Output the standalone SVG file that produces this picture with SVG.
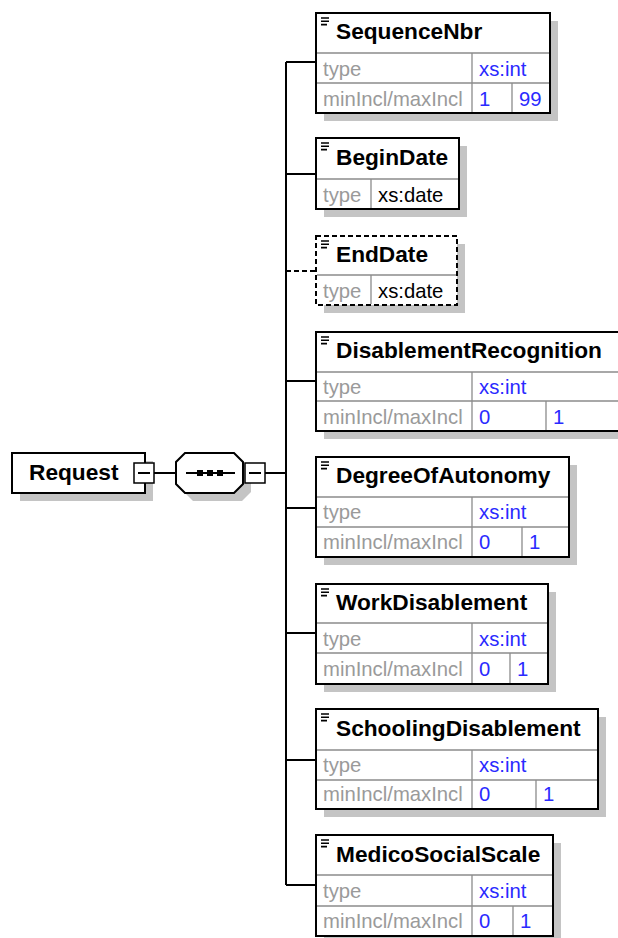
<svg xmlns="http://www.w3.org/2000/svg" width="618" height="938" viewBox="0 0 618 938">
<style>
.bg{fill:#fff}
.sh{fill:#c4c4c4}
.box{fill:#fff;stroke:#000;stroke-width:2}
.dash{fill:#fff;stroke:#000;stroke-width:2;stroke-dasharray:5 3}
.in{stroke:#8c8c8c;stroke-width:1.3;fill:none}
.ic{stroke:#000;stroke-width:1.6}
.hd{font-family:"Liberation Sans",Arial,sans-serif;font-weight:bold;font-size:22.7px;fill:#000}
.lb{font-family:"Liberation Sans",Arial,sans-serif;font-size:20.3px;fill:#9a9a9a}
.vb{font-family:"Liberation Sans",Arial,sans-serif;font-size:20.3px;fill:#2a2aff}
.vk{font-family:"Liberation Sans",Arial,sans-serif;font-size:20.3px;fill:#000}
.cn{stroke:#000;stroke-width:2;fill:none}
.cd{stroke:#000;stroke-width:2;fill:none;stroke-dasharray:5 3}
.mb{fill:#fff;stroke:#000;stroke-width:1.5}
</style>
<defs>
<g id="icon"><path class="ic" d="M0,0H8M0,3.3H8M0,6.6H6"/></g>
</defs>
<rect class="bg" x="0" y="0" width="618" height="938"/>

<g id="connectors">
<line class="cn" x1="154" y1="473" x2="176" y2="473"/>
<line class="cn" x1="265" y1="473" x2="286" y2="473"/>
<line class="cn" x1="286" y1="62" x2="286" y2="885"/>
<line class="cn" x1="286" y1="62" x2="316" y2="62"/>
<line class="cn" x1="286" y1="174" x2="316" y2="174"/>
<line class="cd" x1="286" y1="271" x2="316" y2="271"/>
<line class="cn" x1="286" y1="381" x2="316" y2="381"/>
<line class="cn" x1="286" y1="508" x2="316" y2="508"/>
<line class="cn" x1="286" y1="633" x2="316" y2="633"/>
<line class="cn" x1="286" y1="760" x2="316" y2="760"/>
<line class="cn" x1="286" y1="885" x2="316" y2="885"/>
</g>

<g id="Request">
<rect class="sh" x="20" y="461" width="133" height="40"/>
<rect class="box" x="12" y="453" width="133" height="40"/>
<text class="hd" x="29" y="480">Request</text>
<rect class="mb" x="134" y="463" width="20" height="20"/>
<line class="cn" x1="138" y1="473" x2="150" y2="473" stroke-width="1.5"/>
</g>

<g id="sequence">
<polygon class="sh" points="193,461 242,461 251,470 251,492 242,501 193,501 184,492 184,470"/>
<polygon class="box" points="185,453 234,453 243,462 243,484 234,493 185,493 176,484 176,462" stroke-width="1.5"/>
<line class="cn" x1="186" y1="473" x2="235" y2="473" stroke-width="1.5"/>
<rect x="197" y="470" width="6" height="6" fill="#000"/>
<rect x="207" y="470" width="6" height="6" fill="#000"/>
<rect x="217" y="470" width="6" height="6" fill="#000"/>
<rect class="mb" x="245" y="463" width="20" height="20"/>
<line class="cn" x1="249" y1="473" x2="261" y2="473" stroke-width="1.5"/>
</g>

<g id="SequenceNbr">
<rect class="sh" x="324" y="21" width="234" height="100"/>
<rect class="box" x="316" y="13" width="234" height="100"/>
<path class="in" d="M317,53H549M317,83H549M472,53V112M512,83V112"/>
<use href="#icon" x="321" y="18"/>
<text class="hd" x="336" y="39">SequenceNbr</text>
<text class="lb" x="323" y="76">type</text>
<text class="vb" x="479" y="76">xs:int</text>
<text class="lb" x="323" y="106">minIncl/maxIncl</text>
<text class="vb" x="479" y="106">1</text>
<text class="vb" x="519" y="106">99</text>
</g>

<g id="BeginDate">
<rect class="sh" x="324" y="146" width="143" height="71"/>
<rect class="box" x="316" y="138" width="143" height="71"/>
<path class="in" d="M317,179H458M371,179V208"/>
<use href="#icon" x="321" y="143"/>
<text class="hd" x="336" y="165">BeginDate</text>
<text class="lb" x="323" y="202">type</text>
<text class="vk" x="378" y="202">xs:date</text>
</g>

<g id="EndDate">
<rect class="sh" x="324" y="244" width="141" height="69"/>
<rect class="dash" x="316" y="236" width="141" height="69"/>
<path class="in" d="M317,275H456M371,275V304"/>
<use href="#icon" x="321" y="241"/>
<text class="hd" x="336" y="262">EndDate</text>
<text class="lb" x="323" y="298">type</text>
<text class="vk" x="378" y="298">xs:date</text>
</g>

<g id="DisablementRecognition">
<rect class="sh" x="324" y="340" width="306" height="99"/>
<rect class="box" x="316" y="332" width="306" height="99"/>
<path class="in" d="M317,372H621M317,401H621M472,372V430M546,401V430"/>
<use href="#icon" x="321" y="337"/>
<text class="hd" x="336" y="358">DisablementRecognition</text>
<text class="lb" x="323" y="394">type</text>
<text class="vb" x="479" y="394">xs:int</text>
<text class="lb" x="323" y="424">minIncl/maxIncl</text>
<text class="vb" x="479" y="424">0</text>
<text class="vb" x="553" y="424">1</text>
</g>

<g id="DegreeOfAutonomy">
<rect class="sh" x="324" y="465" width="253" height="100"/>
<rect class="box" x="316" y="457" width="253" height="100"/>
<path class="in" d="M317,497H568M317,527H568M472,497V556M522,527V556"/>
<use href="#icon" x="321" y="462"/>
<text class="hd" x="336" y="483">DegreeOfAutonomy</text>
<text class="lb" x="323" y="519">type</text>
<text class="vb" x="479" y="519">xs:int</text>
<text class="lb" x="323" y="549">minIncl/maxIncl</text>
<text class="vb" x="479" y="549">0</text>
<text class="vb" x="529" y="549">1</text>
</g>

<g id="WorkDisablement">
<rect class="sh" x="324" y="592" width="232" height="100"/>
<rect class="box" x="316" y="584" width="232" height="100"/>
<path class="in" d="M317,623H547M317,653H547M472,623V683M510,653V683"/>
<use href="#icon" x="321" y="589"/>
<text class="hd" x="336" y="610">WorkDisablement</text>
<text class="lb" x="323" y="646">type</text>
<text class="vb" x="479" y="646">xs:int</text>
<text class="lb" x="323" y="676">minIncl/maxIncl</text>
<text class="vb" x="479" y="676">0</text>
<text class="vb" x="517" y="676">1</text>
</g>

<g id="SchoolingDisablement">
<rect class="sh" x="324" y="717" width="282" height="100"/>
<rect class="box" x="316" y="709" width="282" height="100"/>
<path class="in" d="M317,750H597M317,780H597M472,750V808M536,780V808"/>
<use href="#icon" x="321" y="714"/>
<text class="hd" x="336" y="736">SchoolingDisablement</text>
<text class="lb" x="323" y="772">type</text>
<text class="vb" x="479" y="772">xs:int</text>
<text class="lb" x="323" y="801">minIncl/maxIncl</text>
<text class="vb" x="479" y="801">0</text>
<text class="vb" x="543" y="801">1</text>
</g>

<g id="MedicoSocialScale">
<rect class="sh" x="324" y="843" width="237" height="101"/>
<rect class="box" x="316" y="835" width="237" height="101"/>
<path class="in" d="M317,875H552M317,906H552M472,875V935M513,906V935"/>
<use href="#icon" x="321" y="840"/>
<text class="hd" x="336" y="862">MedicoSocialScale</text>
<text class="lb" x="323" y="898">type</text>
<text class="vb" x="479" y="898">xs:int</text>
<text class="lb" x="323" y="928">minIncl/maxIncl</text>
<text class="vb" x="479" y="928">0</text>
<text class="vb" x="520" y="928">1</text>
</g>
</svg>
